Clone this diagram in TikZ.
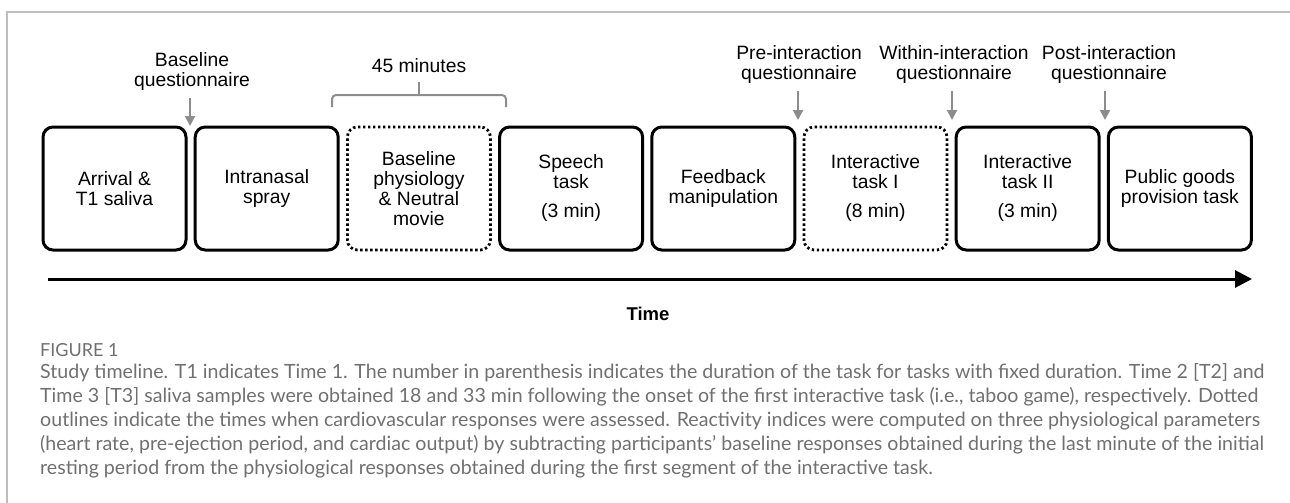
\documentclass[tikz,border=0pt]{standalone}
\usepackage{fontspec}
\setmainfont{Liberation Sans}
\newfontfamily\capfont{Lato}
\usetikzlibrary{arrows.meta}

\definecolor{framegray}{HTML}{BDBDBD}
\definecolor{notegray}{HTML}{8C8C8C}
\definecolor{captiongray}{HTML}{707070}

\begin{document}
\begin{tikzpicture}[
    x=1pt, y=-1pt,
    every node/.style={font=\fontsize{19.3}{20}\selectfont},
    stagebox/.style={
        draw=black,
        line width=3pt,
        rounded corners=10pt,
        minimum width=143pt,
        minimum height=123pt,
        inner sep=0pt,
        align=center
    },
    dotbox/.style={
        stagebox,
        line width=2.8pt,
        dash pattern=on 2.4pt off 2.6pt
    },
    notelabel/.style={align=center, inner sep=0pt},
    notearrow/.style={
        draw=notegray,
        line width=2pt,
        shorten <=7pt,
        -{Triangle[length=10pt,width=10pt]}
    },
    bracket/.style={draw=notegray, line width=2pt, rounded corners=4pt}
]
\useasboundingbox (0,0) rectangle (1290,503);

% ---------- frame (top and left rule) ----------
\draw[framegray, line width=1.5pt] (7,503) -- (7,12) -- (1290,12);

% ---------- the eight stages ----------
\foreach \i/\sty/\txt in {
    1/stagebox/{Arrival \&\\T1 saliva},
    2/stagebox/{Intranasal\\spray},
    3/dotbox/{Baseline\\physiology\\\& Neutral\\movie},
    4/stagebox/{Speech\\task\\[9pt](3 min)},
    5/stagebox/{Feedback\\manipulation},
    6/dotbox/{Interactive\\task I\\[9pt](8 min)},
    7/stagebox/{Interactive\\task II\\[9pt](3 min)},
    8/stagebox/{Public goods\\provision task}}{
    \node[\sty] (s\i) at ({114.5+152.2*(\i-1)},188.5) {\txt};
}

% ---------- questionnaires ----------
\node[notelabel] (qbase)   at (192,72)  {Baseline\\questionnaire};
\node[notelabel] (qpre)    at (799,65)  {Pre-interaction\\questionnaire};
\node[notelabel] (qwithin) at (954,65)  {Within-interaction\\questionnaire};
\node[notelabel] (qpost)   at (1109,65) {Post-interaction\\questionnaire};

\coordinate (tbase)   at (190,126);
\coordinate (tpre)    at (798,120);
\coordinate (twithin) at (952,120);
\coordinate (tpost)   at (1105,120);

\draw[notearrow] (qbase.south -| tbase) -- (tbase);
\draw[notearrow] (qpre.south -| tpre) -- (tpre);
\draw[notearrow] (qwithin.south -| twithin) -- (twithin);
\draw[notearrow] (qpost.south -| tpost) -- (tpost);

% ---------- 45 minutes bracket ----------
\node (span) at (419,66) {45 minutes};
\draw[bracket] (332,107) -- (332,95) -- (506,95) -- (506,107);
\draw[bracket] (419,95) -- (419,82);

% ---------- time axis ----------
\coordinate (tstart) at (48,279);
\coordinate (tend)   at (1252,279);
\draw[line width=3pt, -{Triangle[length=17pt,width=17pt]}] (tstart) -- (tend);
\node[font=\fontsize{18.5}{20}\selectfont\bfseries] (timelabel) at (648,314) {Time};

% ---------- caption ----------
\node[anchor=west, inner sep=0pt, text=captiongray,
      font=\capfont\fontsize{18}{20}\selectfont] (figlabel) at (40,350) {FIGURE 1};
\node[anchor=north west, inner sep=0pt, align=left, text=captiongray,
      font=\capfont\fontsize{19.6}{24}\selectfont] (caption) at (40,363) {%
Study timeline. T1 indicates Time 1. The number in parenthesis indicates the duration of the task for tasks with fixed duration. Time 2 [T2] and\\
Time 3 [T3] saliva samples were obtained 18 and 33 min following the onset of the first interactive task (i.e., taboo game), respectively. Dotted\\
outlines indicate the times when cardiovascular responses were assessed. Reactivity indices were computed on three physiological parameters\\
(heart rate, pre-ejection period, and cardiac output) by subtracting participants’ baseline responses obtained during the last minute of the initial\\
resting period from the physiological responses obtained during the first segment of the interactive task.};

\end{tikzpicture}
\end{document}
